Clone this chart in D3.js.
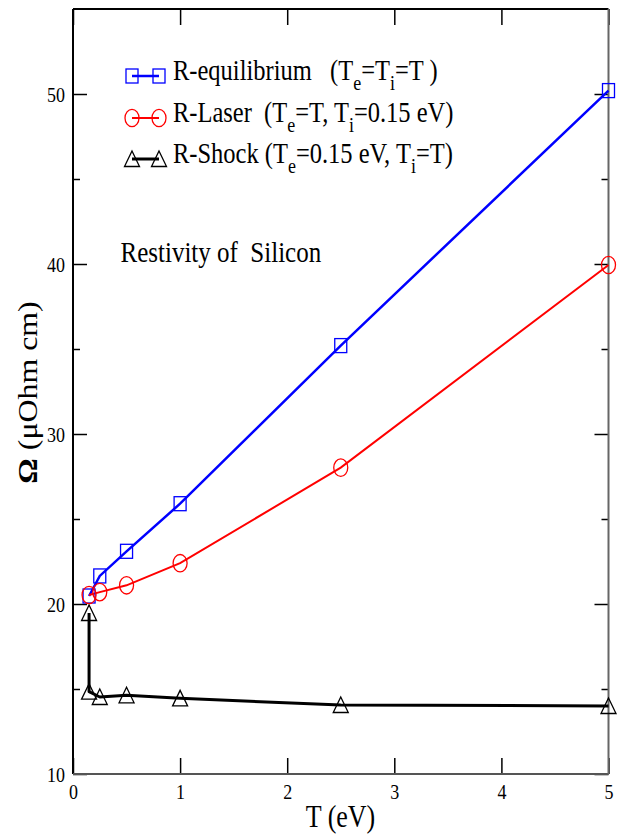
<!DOCTYPE html>
<html>
<head>
<meta charset="utf-8">
<script src="https://cdn.jsdelivr.net/npm/d3@7"></script>
<style>
  body { margin: 0; background: #fff; }
  text { font-family: "Liberation Serif", "Times New Roman", serif; fill: #000; }
</style>
</head>
<body>
<script>

var tValues = [0.15, 0.25, 0.5, 1.0, 2.5, 5.0];
var equilibrium = [20.47, 21.65, 23.1, 25.9, 35.2, 50.2];
var laser = [20.53, 20.7, 21.1, 22.4, 28.02, 39.94];
var shockT = [0.15, 0.15, 0.25, 0.5, 1.0, 2.5, 5.0];
var shock = [19.47, 14.84, 14.53, 14.63, 14.45, 14.06, 14.0];

var xTicks = [0, 1, 2, 3, 4, 5];
var yMajor = [10, 20, 30, 40, 50];
var yMinor = [15, 25, 35, 45];

var sy = 1.2;   // picture is stretched vertically

var svg = d3.select("body").append("svg")
          .attr("width", 623)
          .attr("height", 835);

var x = d3.scaleLinear().domain([0, 5]).range([73, 608.5]);
var y = d3.scaleLinear().domain([10, 55]).range([774, 9]);

// ticks, all pointing into the frame
svg.append("g").attr("transform", "translate(0,774)")
   .call(d3.axisBottom(x).tickValues(xTicks).tickSizeInner(-16).tickSizeOuter(0).tickFormat(d3.format("d")))
   .call(function(g) {
     g.selectAll("text").attr("y", 25.5 / sy).attr("dy", 0)
       .attr("transform", "scale(1," + sy + ")")
       .style("font-size", "18px").style("font-family", "Liberation Serif").attr("fill", "#000");
   });
svg.append("g").attr("transform", "translate(0,9)")
   .call(d3.axisTop(x).tickValues(xTicks).tickSizeInner(-16).tickSizeOuter(0).tickFormat(""));
svg.append("g").attr("transform", "translate(73,0)")
   .call(d3.axisLeft(y).tickValues(yMajor).tickSizeInner(-14).tickSizeOuter(0).tickPadding(8).tickFormat(d3.format("d")))
   .call(function(g) {
     g.selectAll("text").attr("y", 0).attr("dy", 0)
       .attr("transform", "translate(0,7) scale(1," + sy + ")")
       .style("font-size", "18px").style("font-family", "Liberation Serif").attr("fill", "#000");
   });
svg.append("g").attr("transform", "translate(73,0)")
   .call(d3.axisLeft(y).tickValues(yMinor).tickSizeInner(-7).tickSizeOuter(0).tickFormat(""));
svg.append("g").attr("transform", "translate(608.5,0)")
   .call(d3.axisRight(y).tickValues(yMajor).tickSizeInner(-14).tickSizeOuter(0).tickFormat(""));
svg.append("g").attr("transform", "translate(608.5,0)")
   .call(d3.axisRight(y).tickValues(yMinor).tickSizeInner(-7).tickSizeOuter(0).tickFormat(""));
svg.selectAll(".domain").remove();
svg.selectAll(".tick line").attr("stroke", "#000").attr("stroke-width", 1.5);

// frame
svg.append("line").attr("x1", 73).attr("x2", 608.5).attr("y1", 9).attr("y2", 9).attr("stroke", "#000").attr("stroke-width", 2);
svg.append("line").attr("x1", 73).attr("x2", 73).attr("y1", 9).attr("y2", 774).attr("stroke", "#000").attr("stroke-width", 2);
svg.append("line").attr("x1", 73).attr("x2", 608.5).attr("y1", 774).attr("y2", 774).attr("stroke", "#555").attr("stroke-width", 2);
svg.append("line").attr("x1", 608.5).attr("x2", 608.5).attr("y1", 9).attr("y2", 774).attr("stroke", "#666").attr("stroke-width", 2);

var line = d3.line().x(function(d) { return x(d[0]); }).y(function(d) { return y(d[1]); });

var eqData = tValues.map(function(t, i) { return [t, equilibrium[i]]; });
var laserData = tValues.map(function(t, i) { return [t, laser[i]]; });
var shockData = shockT.map(function(t, i) { return [t, shock[i]]; });

svg.append("path").datum(eqData).attr("d", line)
   .attr("fill", "none").attr("stroke", "#0000ff").attr("stroke-width", 2.5);
svg.append("path").datum(laserData).attr("d", line)
   .attr("fill", "none").attr("stroke", "#ff0000").attr("stroke-width", 2);
svg.append("path").datum(shockData).attr("d", line)
   .attr("fill", "none").attr("stroke", "#000").attr("stroke-width", 3).attr("stroke-linejoin", "round");

var square = function(g, cx, cy) {
  g.append("rect").attr("x", cx - 6).attr("y", cy - 7).attr("width", 12).attr("height", 14)
   .attr("fill", "none").attr("stroke", "#0000ff").attr("stroke-width", 1.3);
};
var circle = function(g, cx, cy) {
  g.append("ellipse").attr("cx", cx).attr("cy", cy).attr("rx", 7).attr("ry", 8.7)
   .attr("fill", "none").attr("stroke", "#ff0000").attr("stroke-width", 1.3);
};
var triangle = function(g, cx, cy) {
  g.append("path").attr("d", "M" + cx + "," + (cy - 8) + "L" + (cx + 7.5) + "," + (cy + 7.5) + "L" + (cx - 7.5) + "," + (cy + 7.5) + "Z")
   .attr("fill", "none").attr("stroke", "#000").attr("stroke-width", 1.3);
};

eqData.forEach(function(d) { square(svg, x(d[0]), y(d[1])); });
laserData.forEach(function(d) { circle(svg, x(d[0]), y(d[1])); });
shockData.forEach(function(d) { triangle(svg, x(d[0]), y(d[1])); });

// legend
var legendRows = [
  { y: 76, base: 80, color: "#0000ff", width: 2.5, mark: square,
    parts: [["R-equilibrium   (T", 0], ["e", 1], ["=T", 0], ["i", 1], ["=T )", 0]] },
  { y: 118, base: 122, color: "#ff0000", width: 2, mark: circle,
    parts: [["R-Laser  (T", 0], ["e", 1], ["=T, T", 0], ["i", 1], ["=0.15 eV)", 0]] },
  { y: 159, base: 163, color: "#000", width: 3, mark: triangle,
    parts: [["R-Shock (T", 0], ["e", 1], ["=0.15 eV, T", 0], ["i", 1], ["=T)", 0]] }
];

legendRows.forEach(function(r) {
  svg.append("line").attr("x1", 132).attr("x2", 159).attr("y1", r.y).attr("y2", r.y)
     .attr("stroke", r.color).attr("stroke-width", r.width);
  r.mark(svg, 132, r.y);
  r.mark(svg, 159, r.y);
  var t = svg.append("text")
     .attr("transform", "translate(173," + r.base + ") scale(1," + sy + ")")
     .style("font-size", "24.5px").style("white-space", "pre");
  var down = false;
  r.parts.forEach(function(p) {
    var ts = t.append("tspan").text(p[0]);
    if (p[1] && !down) { ts.attr("dy", 8).style("font-size", "18px"); down = true; }
    else if (!p[1] && down) { ts.attr("dy", -8); down = false; }
  });
});

svg.append("text")
   .attr("transform", "translate(120.5,262) scale(1," + sy + ")")
   .style("font-size", "25px").style("white-space", "pre")
   .text("Restivity of  Silicon");

svg.append("text")
   .attr("transform", "translate(340.5,827) scale(1," + sy + ")")
   .attr("text-anchor", "middle")
   .style("font-size", "26px")
   .text("T (eV)");

var yl = svg.append("text")
   .attr("transform", "translate(37,392.5) rotate(-90) scale(1.18,1)")
   .attr("text-anchor", "middle")
   .style("font-size", "27px");
yl.append("tspan").style("font-weight", "bold").text("Ω");
yl.append("tspan").text(" (μOhm cm)");

</script>
</body>
</html>
